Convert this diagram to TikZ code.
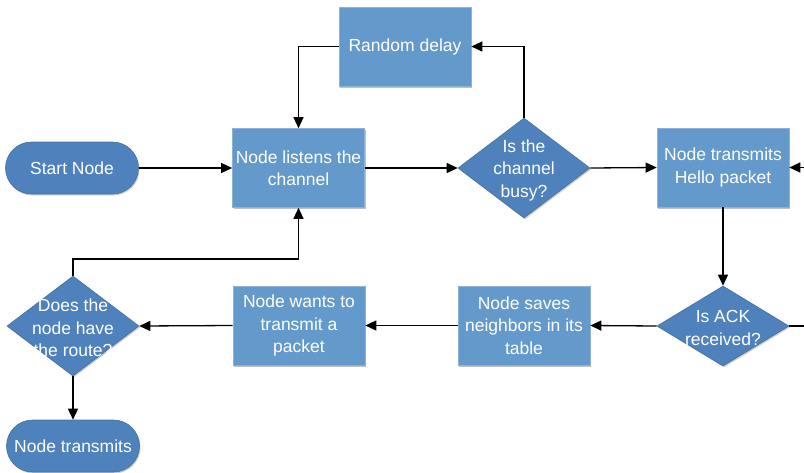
\documentclass[tikz,border=0pt]{standalone}
\usepackage{fontspec}
\setmainfont{Liberation Sans}
\usetikzlibrary{shapes.geometric,arrows.meta,shadows,calc}

\definecolor{boxblue}{HTML}{6499CC}
\definecolor{boxedge}{HTML}{8DB1D9}
\definecolor{darkblue}{HTML}{4F81BD}
\definecolor{darkedge}{HTML}{41719C}

\tikzset{
  lbl/.style={font=\fontsize{17.5}{22.5}\selectfont, text=white, align=center},
  txt/.style={lbl, yshift=-2pt},
  procbox/.style={lbl, rectangle, fill=boxblue, draw=boxedge, line width=0.6pt,
    minimum width=132pt, minimum height=79pt, inner sep=0pt,
    drop shadow={shadow xshift=1.2pt, shadow yshift=-1.6pt, opacity=0.25, fill=black}},
  decision/.style={diamond, fill=darkblue, draw=darkedge, line width=0.6pt,
    minimum width=132pt, minimum height=100pt, inner sep=0pt,
    drop shadow={shadow xshift=1pt, shadow yshift=-1.4pt, opacity=0.2, fill=black}},
  terminal/.style={lbl, rectangle, rounded corners=26pt, fill=darkblue, draw=darkedge,
    line width=0.6pt, minimum width=133pt, minimum height=52pt, inner sep=0pt,
    drop shadow={shadow xshift=1pt, shadow yshift=-1.4pt, opacity=0.2, fill=black}},
  arr/.style={draw=black, line width=1.3pt, -{Triangle[length=11pt,width=10pt]}},
  plain/.style={draw=black, line width=1.3pt},
}

\begin{document}
\begin{tikzpicture}[x=1pt, y=-1pt]
  \useasboundingbox (0,0) rectangle (804,472);

  % process steps
  \node[terminal] (start)    at (72,168)    {Start Node};
  \node[procbox]  (listen)   at (298.5,168) {Node listens the\\channel};
  \node[decision, label={[txt]center:Is the\\channel\\busy?}] (busy) at (524,168) {};
  \node[procbox]  (hello)    at (723,167.5) {Node transmits\\Hello packet};
  \node[procbox]  (delay)    at (405,46.5)  {Random delay};
  \node[decision, minimum height=80pt, label={[txt]center:Is ACK\\received?}] (ack) at (723,326) {};
  \node[procbox]  (saves)    at (524,325.5) {Node saves\\neighbors in its\\table};
  \node[procbox]  (wants)    at (299,325.5) {Node wants to\\transmit a\\packet};
  \node[decision, label={[txt]center:Does the\\node have\\the route?}] (does) at (73,326) {};
  \node[terminal] (transmit) at (73,446)    {Node transmits};

  % loose ends at the right border
  \coordinate (inright)  at (804,167.5);
  \coordinate (outright) at (804,326);

  % connectors
  \draw[arr] (start.east) -- (listen.west);
  \draw[arr] (listen.east) -- (busy.west);
  \draw[arr] (busy.east) -- (hello.west);
  \draw[arr] (busy.north) |- (delay.east);
  \draw[arr] (delay.west) -| (listen.north);
  \draw[arr] (hello.south) -- (ack.north);
  \draw[arr] (inright) -- (hello.east);
  \draw[plain] (ack.east) -- (outright);
  \draw[arr] (ack.west) -- (saves.east);
  \draw[arr] (saves.west) -- (wants.east);
  \draw[arr] (wants.west) -- (does.east);
  \draw[arr] (does.north) -- (does.north |- 0,259) -| (listen.south);
  \draw[arr] (does.south) -- (transmit.north);
\end{tikzpicture}
\end{document}
